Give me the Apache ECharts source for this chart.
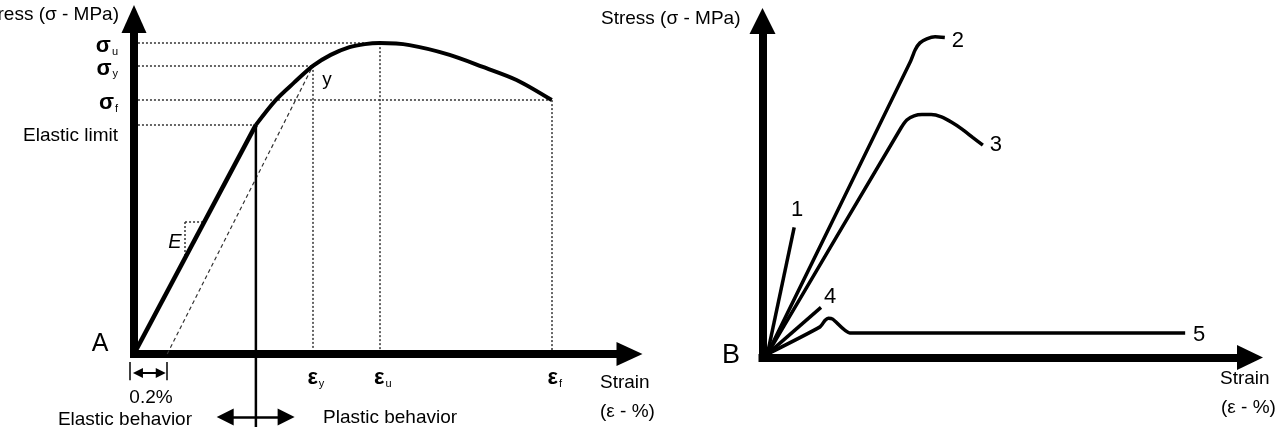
<!DOCTYPE html>
<html>
<head>
<meta charset="utf-8">
<script src="https://cdn.jsdelivr.net/npm/echarts@6/dist/echarts.min.js"></script>
<style>
  html, body { margin: 0; padding: 0; background: #fff; }
  #chart { width: 1285px; height: 430px; }
</style>
</head>
<body>
<div id="chart"></div>
<script>
const chart = echarts.init(document.getElementById('chart'));
const FONT = "'Liberation Sans', Arial, sans-serif";
const INK = '#000';

// ---- panel A: schematic stress-strain curve (axis units 0..100) ----
const elasticLimitPt = [24.6, 68.4];
const yieldPt = [36.1, 86.0];
const ultimatePt = [49.6, 92.8];
const fracturePt = [84.3, 75.8];
const offsetStrain = 6.7;

const elasticLine = [[0, 0], elasticLimitPt];
const plasticCurve = [elasticLimitPt, [28.6, 75.8], [32.3, 81.0], yieldPt, [39.7, 89.3], [43.5, 91.6],
  [46.6, 92.5], ultimatePt, [55.6, 92.2], [63.7, 89.3], [70.4, 85.7], [77.2, 81.8], fracturePt];
const offsetLine = [[offsetStrain, 0], yieldPt];

// stress ticks are split over two overlaid axes so neighbouring labels never collide
const stressTicks = [fracturePt[1], ultimatePt[1]];
const stressLabels = ['σ_f', 'σ_u'];
const stressTicks2 = [elasticLimitPt[1], yieldPt[1]];
const stressLabels2 = ['Elastic limit', 'σ_y'];
const strainTicks = [yieldPt[0], ultimatePt[0], fracturePt[0]];
const strainLabels = ['ε_y', 'ε_u', 'ε_f'];

// E slope triangle, divider and arrows below the axis
const eTriangle = [[[10.3, 39.4], [14.1, 39.4]], [[10.3, 39.4], [10.3, 28.8]]];
const dividerLine = [[elasticLimitPt[0], elasticLimitPt[1]], [elasticLimitPt[0], -21.8]];
const behaviourArrow = [[18.4, -18.8], [30.7, -18.8]];
const offsetArrow = [[0.8, -5.7], [5.4, -5.7]];
const offsetTicks = [[[-0.8, -2.4], [-0.8, -7.8]], [[offsetStrain, -2.4], [offsetStrain, -7.8]]];

// ---- panel B: five material types ----
const curve1 = [[1, 1], [6.5, 38.7]];
const curve2 = [[1, 1], [30.3, 87.8], [31.3, 91.4], [32.3, 93.5], [33.7, 94.7], [35.4, 95.3], [37.4, 95.1]];
const curve3 = [[1, 1], [28.4, 68.2], [29.6, 70.6], [31.1, 71.8], [32.7, 72.2], [34.6, 72.2], [36.7, 71.5],
  [38.8, 69.9], [41.0, 67.8], [43.1, 65.4], [45.2, 63.1]];
const curve4 = [[1, 1], [12.0, 14.9]];
const curve5 = [[1, 1], [11.8, 9.1], [12.8, 11.0], [13.5, 11.7], [14.4, 11.4], [17.9, 7.3], [86.7, 7.3]];
const curvesB = [curve1, curve2, curve3, curve4, curve5];
const curveNames = ['1', '2', '3', '4', '5'];
const nameOffsets = [[3, -17], [13, 3], [13, 0], [9, -10], [14, 2]];

// guide lines from the characteristic points
const guidePts = [elasticLimitPt, yieldPt, ultimatePt, fracturePt];
const guides = [];
guidePts.forEach((p, i) => {
  guides.push({ coords: [[0.8, p[1]], p] });
  if (i > 0) guides.push({ coords: [p, [p[0], 1.2]] });
});

function richText(t) {
  const p = t.split('_');
  return p.length > 1 ? '{s|' + p[0] + '}{b|' + p[1] + '}\n{z| }' : '{w| }{e|' + t + '}';
}
function pick(ticks, labels) {
  return v => {
    const i = ticks.findIndex(t => Math.abs(t - v) < 1e-6);
    return i < 0 ? '' : richText(labels[i]);
  };
}
// symbol line + tiny empty line below; subscript sits at the bottom of the first line
function labelRich(symPad) {
  return {
    s: { fontFamily: FONT, fontSize: 22, fontWeight: 'bold', color: INK, lineHeight: 30, verticalAlign: 'bottom', padding: [0, 0, 0, symPad] },
    b: { fontFamily: FONT, fontSize: 11, color: INK, lineHeight: 4, verticalAlign: 'bottom', padding: [0, 0, 0, 1] },
    z: { fontSize: 1, lineHeight: 2 },
    w: { fontSize: 1, lineHeight: 40 },
    e: { fontFamily: FONT, fontSize: 19, color: INK, lineHeight: 20, verticalAlign: 'bottom' }
  };
}

function arrowAxis(gridIndex, size) {
  return {
    type: 'value', gridIndex, min: 0, max: 100,
    splitLine: { show: false }, axisTick: { show: false },
    axisLine: { show: true, symbol: ['none', 'triangle'], symbolSize: size,
      lineStyle: { color: INK, width: 8, cap: 'square' } },
    axisLabel: { show: false }
  };
}
function stressLabel(ticks, labels) {
  return {
    show: true, customValues: ticks, formatter: pick(ticks, labels), margin: 16, align: 'right',
    showMinLabel: true, showMaxLabel: true, hideOverlap: false, rich: labelRich(0)
  };
}

const xA = arrowAxis(0, [24, 26]);
xA.axisLabel = {
  show: true, customValues: strainTicks, formatter: pick(strainTicks, strainLabels), margin: 5,
  showMinLabel: true, showMaxLabel: true, hideOverlap: false, rich: labelRich(6)
};
const yA = arrowAxis(0, [25, 28]);
yA.position = 'left';
yA.axisLabel = stressLabel(stressTicks, stressLabels);
const yA2 = arrowAxis(0, [25, 28]);
yA2.position = 'left';
yA2.axisLine = { show: false };
yA2.axisLabel = stressLabel(stressTicks2, stressLabels2);

function seg(data, width, extra) {
  return Object.assign({
    type: 'line', xAxisIndex: 0, yAxisIndex: 0, data, symbol: 'none', silent: true, z: 3,
    lineStyle: { color: INK, width }
  }, extra || {});
}
function lines(data, style, extra) {
  return Object.assign({
    type: 'lines', coordinateSystem: 'cartesian2d', xAxisIndex: 0, yAxisIndex: 0,
    clip: false, silent: true, z: 2, symbol: 'none',
    lineStyle: Object.assign({ color: INK, opacity: 1, curveness: 0 }, style), data
  }, extra || {});
}

const option = {
  animation: false,
  backgroundColor: '#fff',
  textStyle: { fontFamily: FONT },
  grid: [
    { left: 134, top: 19, right: 655.5, bottom: 76 },
    { left: 762.5, top: 21, right: 35, bottom: 72.5 }
  ],
  xAxis: [xA, arrowAxis(1, [25, 26])],
  yAxis: [yA, arrowAxis(1, [26, 26]), yA2],
  series: [
    lines(guides, { color: '#333', width: 1.5, type: [2, 2] }),
    lines(eTriangle.map(c => ({ coords: c })), { color: '#333', width: 1.5, type: [2, 2] }),
    seg(offsetLine, 1.2, { lineStyle: { color: '#333', width: 1.2, type: [4, 3] } }),
    seg(elasticLine, 4.5),
    seg(plasticCurve, 4, { smooth: 0.3 }),
    seg(dividerLine, 2.5, { clip: false }),
    lines([{ coords: behaviourArrow }], { width: 2.5 }, { symbol: ['triangle', 'triangle'], symbolSize: 17 }),
    lines([{ coords: offsetArrow }], { width: 2 }, { symbol: ['triangle', 'triangle'], symbolSize: 10 }),
    lines(offsetTicks.map(c => ({ coords: c })), { width: 1.5 }),
    ...curvesB.map(c => seg(c, 3.5, { xAxisIndex: 1, yAxisIndex: 1, smooth: c.length > 3 ? 0.2 : 0 }))
  ]
};
chart.setOption(option);

function txt(text, x, y, s) {
  return {
    type: 'text', x, y, silent: true, z: 10,
    style: Object.assign({
      text, fill: INK, fontFamily: FONT, fontSize: 19,
      align: 'left', textAlign: 'left', verticalAlign: 'middle', textVerticalAlign: 'middle'
    }, s || {})
  };
}
const R = { align: 'right', textAlign: 'right' };
const C = { align: 'center', textAlign: 'center' };

const texts = [
  txt('Stress (σ - MPa)', 119, 15, R),
  txt('Stress (σ - MPa)', 601, 19),
  txt('A', 100, 344, Object.assign({ fontSize: 25 }, C)),
  txt('B', 731, 356, Object.assign({ fontSize: 27 }, C)),
  txt('y', 327, 80, C),
  txt('E', 175, 242, Object.assign({ fontStyle: 'italic', fontSize: 20 }, C)),
  txt('0.2%', 151, 398, C),
  txt('Elastic behavior', 192, 420, R),
  txt('Plastic behavior', 323, 418),
  txt('Strain', 600, 383),
  txt('(ε - %)', 600, 412),
  txt('Strain', 1220, 379),
  txt('(ε - %)', 1221, 408)
];
curvesB.forEach((c, i) => {
  const p = chart.convertToPixel({ gridIndex: 1 }, c[c.length - 1]);
  texts.push(txt(curveNames[i], p[0] + nameOffsets[i][0], p[1] + nameOffsets[i][1], Object.assign({ fontSize: 22 }, C)));
});
chart.setOption({ graphic: { elements: texts } });
</script>
</body>
</html>
